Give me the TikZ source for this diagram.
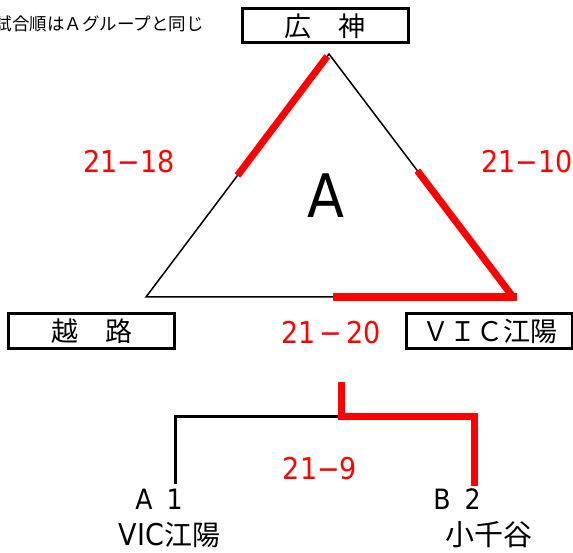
\documentclass[tikz,border=0pt]{standalone}
\usepackage{fontspec}
\usetikzlibrary{calc}
\setmainfont{DejaVu Sans Condensed}
\newfontfamily\cjk{Noto Sans CJK JP}
\begin{document}
\begin{tikzpicture}[x=1pt,y=-1pt,
  thinline/.style={line width=1.5pt,black},
  redline/.style={line width=7pt,red},
  teambox/.style={draw,line width=3pt,minimum width=166pt,minimum height=34pt,inner sep=0pt,font=\cjk\fontsize{27}{27}\selectfont},
  score/.style={text=red,inner sep=0pt,anchor=base,font=\fontsize{30}{30}\selectfont},
  lbl/.style={inner sep=0pt,anchor=base,font=\fontsize{28}{28}\selectfont}]
\useasboundingbox (0,0) rectangle (573,553);
\clip (0,0) rectangle (573,553);
% note
\node[inner sep=0pt,anchor=east,font=\cjk\fontsize{17.5}{17.5}\selectfont] (note) at (204,24) {試合順はＡグループと同じ};
% boxes
\node[teambox] (kojin) at (325,26) {広　神};
\node[teambox] (koshiji) at (91.5,331) {越　路};
\node[teambox] (vic) at (489.5,331) {ＶＩＣ江陽};
% triangle
\coordinate (top) at (329,54);
\coordinate (bl) at (146,297);
\coordinate (br) at (513,297);
\draw[thinline] (top) -- (bl) -- (br) -- cycle;
\draw[redline] ($(top)!0.01!(bl)$) -- ($(top)!0.5!(bl)$);
\draw[redline] ($(top)!0.48!(br)$) -- (br);
\coordinate (bs) at (333,297.5);
\coordinate (be) at (517,297.5);
\draw[red,line width=8pt] (bs) -- (be);
\node[inner sep=0pt,anchor=base,font=\fontsize{60}{60}\selectfont] (gA) at (326,218) {A};
% scores
\node[score] (s1) at (129,173) {21−18};
\node[score,anchor=base west] (s2) at (481,173) {21−10};
\node[score] (s3) at (331,343) {21\hspace{4pt}−\hspace{4pt}20};
\node[score] (s4) at (320,479) {21−9};
% bracket
\coordinate (ft) at (341,382);
\coordinate (fm) at (341,416);
\coordinate (la) at (175,484);
\coordinate (rb) at (474,486);
\draw[line width=3pt] (la) |- (fm);
\draw[redline,line join=miter] (ft) -- (fm) -| (rb);
% bottom labels
\node[lbl] (a1) at (159,509) {A\hspace{0.5em}1};
\node[lbl] (b2) at (457,509) {B\hspace{0.5em}2};
\node[inner sep=0pt,anchor=base,font=\fontsize{30}{30}\selectfont] (a1n) at (169.5,545) {VIC{\cjk\fontsize{28}{28}\selectfont 江陽}};
\node[inner sep=0pt,anchor=base,font=\cjk\fontsize{29}{29}\selectfont] (b2n) at (489,545) {小千谷};
\end{tikzpicture}
\end{document}
